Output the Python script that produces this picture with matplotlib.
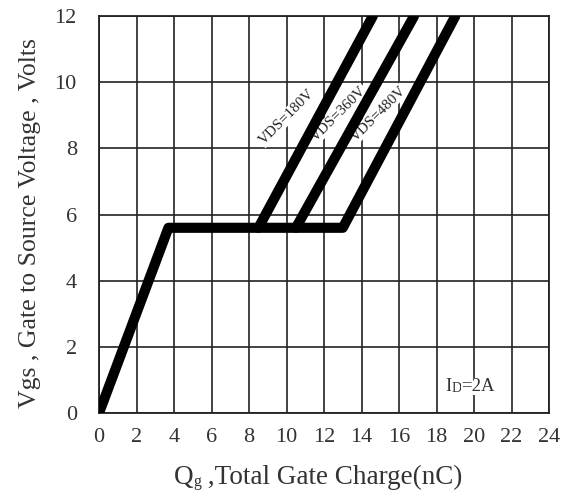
import matplotlib
matplotlib.use("Agg")
import matplotlib.pyplot as plt

plt.rcParams['font.family'] = ['Liberation Serif', 'DejaVu Serif']

# gate charge curves (Qg in nC, Vgs in V)
qg_main = [0, 3.7, 13.0, 19.0]       # common rise + VDS=480V branch
vgs_main = [0, 5.6, 5.6, 12.0]
qg_180 = [8.5, 14.6]
vgs_180 = [5.6, 12.0]
qg_360 = [10.5, 16.8]
vgs_360 = [5.6, 12.0]

x_ticks = list(range(0, 25, 2))
y_ticks = list(range(0, 13, 2))

labels = ["VDS=180V", "VDS=360V", "VDS=480V"]
label_x = [10.0, 12.8, 14.9]
label_y = [8.95, 9.05, 9.05]

TXT = '#333333'


def chain(ax, x, y, parts, transform, bbox=None):
    """draw text pieces of different sizes one after another"""
    prev = None
    for s, fs in parts:
        if prev is None:
            prev = ax.text(x, y, s, fontsize=fs, color=TXT, ha='left',
                           va='bottom', transform=transform, bbox=bbox,
                           zorder=2)
        else:
            prev = ax.annotate(s, xy=(1, 0), xycoords=prev, fontsize=fs,
                               color=TXT, ha='left', va='bottom', bbox=bbox,
                               zorder=2)
    return prev


fig = plt.figure(figsize=(5.66, 4.91), dpi=100)
ax = fig.add_axes([0.175, 0.159, 0.795, 0.808])

lw = 7.3
ax.plot(qg_main, vgs_main, color='black', lw=lw, solid_capstyle='round',
        solid_joinstyle='round', zorder=3)
ax.plot(qg_180, vgs_180, color='black', lw=lw, solid_capstyle='round', zorder=3)
ax.plot(qg_360, vgs_360, color='black', lw=lw, solid_capstyle='round', zorder=3)

for txt, x, y in zip(labels, label_x, label_y):
    ax.text(x, y, txt, rotation=45, ha='center', va='center', fontsize=10.8,
            color='#222222', zorder=2,
            bbox=dict(facecolor='white', edgecolor='none', pad=0.5))

wb = dict(facecolor='white', edgecolor='none', pad=0)
chain(ax, 18.45, 0.55, [("I", 13.5), ("D", 10), ("=2A", 13.5)],
      ax.transData, bbox=wb)

ax.set_xlim(0, 24)
ax.set_ylim(0, 12)
ax.set_xticks(x_ticks)
ax.set_yticks(y_ticks)
ax.grid(True, color='#222222', linewidth=1.2)
ax.set_axisbelow(True)
for s in ax.spines.values():
    s.set_color('#222222')
    s.set_linewidth(1.3)
ax.tick_params(axis='both', length=0, labelsize=16, colors=TXT)
ax.tick_params(axis='x', pad=11)
ax.tick_params(axis='y', pad=16)

# x label: Q with small g, then the rest
chain(ax, 0.166, -0.195,
      [("Q", 19.5), ("g", 11.5), (" ,Total Gate Charge(nC)", 19.5)],
      ax.transAxes)
ax.set_ylabel("Vgs , Gate to Source Voltage , Volts", fontsize=18.5, color=TXT)
ax.yaxis.set_label_coords(-0.128, 0.479)

fig.savefig("out.png", dpi=100)
